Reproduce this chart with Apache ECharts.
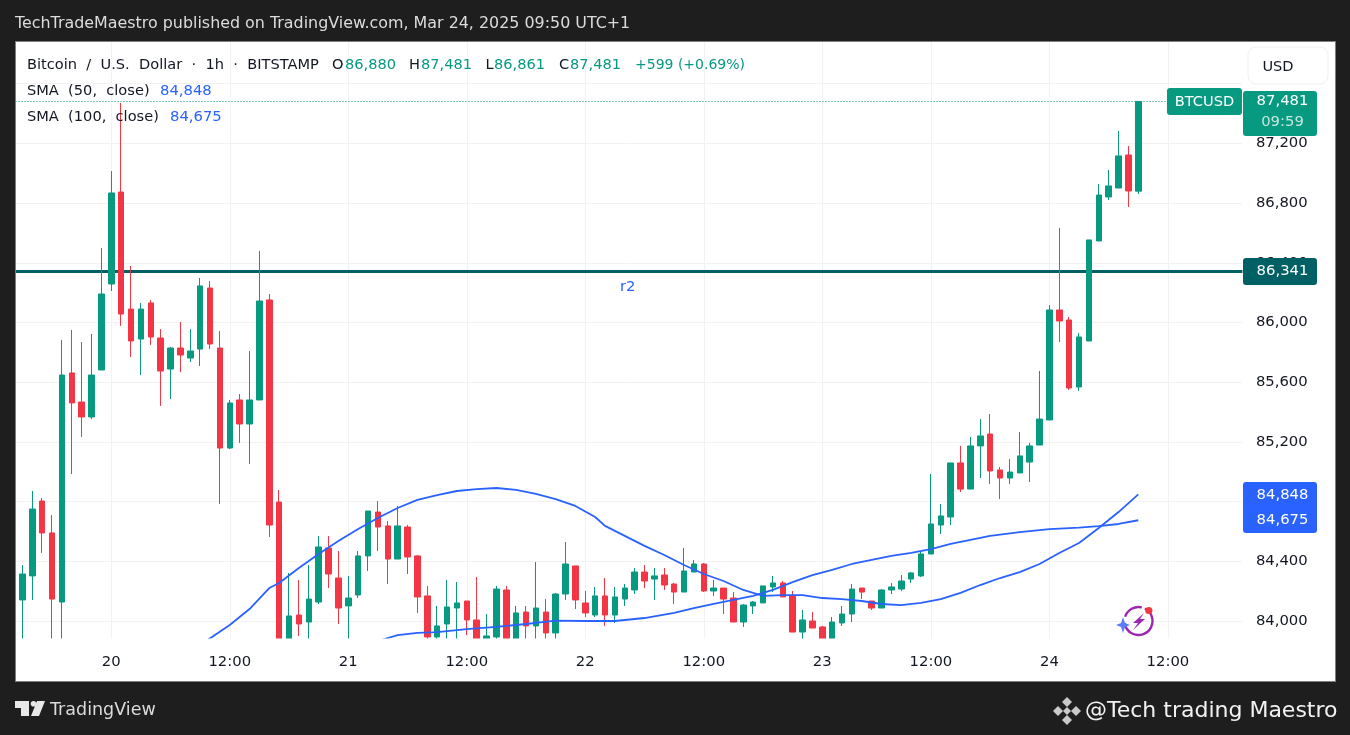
<!DOCTYPE html>
<html><head><meta charset="utf-8">
<style>html,body{margin:0;padding:0;background:#1e1e1e}#c{width:1350px;height:735px}</style>
<script src="https://cdn.jsdelivr.net/npm/echarts@6/dist/echarts.min.js"></script>
</head><body><div id="c"></div>
<script>
const opens=[83873,84141,84302,84804,84590,84127,85662,85467,85367,85682,86258,86874,86090,85889,86131,85896,85688,85829,85762,85822,86231,85829,85159,85481,85320,85481,86151,84797,83839,84040,83993,84127,84489,84288,84101,84174,84436,84730,84637,84415,84630,84436,84168,83893,83980,84087,84134,84007,83839,83893,84208,83839,84060,83967,84060,83920,84181,84369,84121,84040,84168,84040,84147,84208,84328,84281,84308,84248,84194,84328,84382,84201,84221,84154,83993,84101,84121,84228,84255,84168,83926,84000,83960,83866,83987,84047,84221,84134,84087,84208,84214,84281,84302,84449,84643,84697,85059,84884,85173,85253,85012,84958,84992,85065,85179,85347,86084,86017,85568,85876,86546,86841,86901,87122,86880];
const closes=[84121,84315,84750,84590,84147,85648,85461,85367,85648,86191,86868,86057,85876,86090,85903,85675,85829,85782,85809,86245,85856,85159,85461,85320,85481,86144,84643,83839,84034,83980,84147,84496,84315,84087,84154,84436,84737,84630,84415,84637,84429,84161,83893,83967,84094,84121,84007,83839,83900,84214,83839,84054,83967,84087,83920,84181,84382,84141,84054,84168,84040,84161,84221,84328,84268,84302,84241,84194,84335,84382,84201,84221,84147,83993,84107,84127,84235,84255,84161,83926,84007,83953,83866,83993,84047,84214,84194,84087,84208,84228,84268,84322,84449,84650,84704,85059,84884,85173,85240,85005,84958,84998,85106,85173,85353,86084,86010,85561,85903,86553,86854,86915,87116,86881,87481];
const lows=[83873,83879,84141,84456,83873,83873,84985,85233,85353,85682,86211,85977,85769,85648,85849,85441,85487,85668,85735,85709,85822,84784,85152,85193,85052,85481,84563,83806,83806,83900,83879,84114,84221,83980,83879,84154,84335,84469,84248,84415,84315,84054,83873,83873,83873,83879,83906,83806,83806,83866,83806,83806,83873,83873,83873,83873,84141,84080,84027,84027,83967,83987,84101,84181,84221,84141,84208,84114,84194,84328,84194,84168,84047,83993,83960,84047,84121,84194,84161,83926,83873,83953,83866,83839,83967,83993,84147,84074,84087,84181,84201,84255,84295,84449,84583,84643,84864,84884,84958,84918,84817,84918,84992,84931,85179,85347,85869,85548,85541,85876,86546,86821,86901,86774,86861];
const highs=[84121,84375,84871,84824,84710,85883,85950,85869,85923,86499,87015,87471,86379,86131,86151,85956,85836,86003,85956,86298,86278,85943,85481,85521,85809,86479,86191,84878,84322,84275,84375,84570,84570,84469,84302,84469,84737,84804,84670,84771,84643,84442,84235,84101,84275,84261,84134,84295,84047,84235,84235,84101,84101,84395,84147,84188,84529,84369,84201,84228,84288,84228,84248,84355,84375,84355,84355,84255,84489,84409,84389,84275,84221,84194,84114,84134,84235,84302,84268,84201,84074,84060,83967,84027,84101,84248,84221,84134,84214,84255,84308,84328,84469,84985,84784,85059,85173,85233,85353,85387,85032,85085,85266,85193,85675,86117,86633,86037,85930,86553,86928,87022,87283,87183,87481];

const sma50Bars=[19,22,24,26,27,29,31,33,35,37,39,41,43,45,47,49,51,53,55,57,59,60,62,64,66,68,70,72,74,76,78,80,82,84,86,88,90,92,94,96,98,100,102,104,106,108,110,112,114];
const sma50Values=[83839,83973,84080,84221,84255,84355,84449,84536,84616,84690,84757,84811,84844,84871,84884,84891,84878,84851,84817,84771,84697,84637,84570,84503,84442,84375,84315,84268,84208,84168,84174,84174,84154,84147,84134,84114,84107,84121,84147,84188,84241,84288,84328,84382,84456,84523,84623,84730,84848];
const sma100Bars=[37,39,41,43,46,49,52,55,58,61,64,67,69,71,73,75,77,79,81,83,85,87,89,91,93,95,97,99,102,105,108,110,112,114];
const sma100Values=[83866,83906,83920,83926,83946,83960,83980,84003,84000,84000,84020,84054,84087,84114,84141,84168,84208,84261,84308,84342,84382,84409,84436,84456,84482,84516,84543,84570,84596,84616,84626,84636,84650,84675];

const tickBars=[10,22,34,46,58,70,82,93,105,117];
const tickLabels=['20','12:00','21','12:00','22','12:00','23','12:00','24','12:00'];
const yTickValues=[84000,84400,84800,85200,85600,86000,86400,86800,87200];
const barCount=126;

const lastPrice=87481, r2Level=86341;
const FONT='"DejaVu Sans"';
const GREEN='#089981',RED='#F23645',BLUE='#2962FF',TEAL='#006064',INK='#131722',DARK='#1e1e1e';

const categories=Array.from({length:barCount},(_,i)=>{const k=tickBars.indexOf(i);return k<0?'':tickLabels[k];});
const candle=opens.map((o,i)=>[o,closes[i],lows[i],highs[i]]);
function sparse(bars,vals){const a=new Array(barCount).fill(null);bars.forEach((b,i)=>a[b]=vals[i]);return a;}
const fmt=v=>v.toLocaleString('en-US');

function txt(x,y,text,fill,size,align,weight,z){return {type:'text',x,y,z:z||90,silent:true,style:{text,fill,font:(weight||'normal')+' '+(size||14)+'px '+FONT,textAlign:align||'left',textVerticalAlign:'middle'}};}
function rect(x,y,w,h,fill,z,r,stroke){return {type:'rect',z:z,silent:true,shape:{x,y,width:w,height:h,r:r||0},style:{fill,stroke:stroke||null,lineWidth:stroke?1:0}};}
function poly(points,fill,z){return {type:'polygon',z:z||90,silent:true,shape:{points},style:{fill}};}

const chrome=[
 rect(0,0,1350,41,DARK,50), rect(0,682,1350,53,DARK,50), rect(0,0,15,735,DARK,50), rect(1336,0,14,735,DARK,50),
 rect(15,41,1321,1,'#7f7f7f',51), rect(15,681,1321,1,'#7f7f7f',51), rect(15,41,1,641,'#7f7f7f',51), rect(1335,41,1,641,'#7f7f7f',51),
 rect(16,638.5,1319,42.5,'#ffffff',20),
 rect(1242.4,42,5,639,'#ffffff',20),
 txt(15,24,'TechTradeMaestro published on TradingView.com, Mar 24, 2025 09:50 UTC+1','#dcdcdc',15.9),
 txt(27,65,'Bitcoin  /  U.S.  Dollar  ·  1h  ·  BITSTAMP',INK,14.6),
 txt(332,65,'O',INK,14.6), txt(345,65,'86,880',GREEN,14.6),
 txt(409,65,'H',INK,14.6), txt(421,65,'87,481',GREEN,14.6),
 txt(485.5,65,'L',INK,14.6), txt(494,65,'86,861',GREEN,14.6),
 txt(559,65,'C',INK,14.6), txt(570,65,'87,481',GREEN,14.6),
 txt(635,65,'+599 (+0.69%)',GREEN,14),
 txt(27,91,'SMA  (50,  close)',INK,14.6), txt(160,91,'84,848',BLUE,14.8),
 txt(27,117,'SMA  (100,  close)',INK,14.6), txt(170,117,'84,675',BLUE,14.8),
 rect(1248,47,80,37,'#ffffff',80,8,'#f0f0f0'), txt(1278,67,'USD',INK,14.6,'center'),
 rect(1167,88,75,27,GREEN,80,3), txt(1204.5,102.5,'BTCUSD','#ffffff',14.6,'center'),
 rect(1243,91,74,45,GREEN,80,3), txt(1282.5,101,fmt(lastPrice),'#ffffff',14.8,'center'), txt(1282.5,122,'09:59','#c6e6e0',14.8,'center'),
 rect(1243,258,74,27,TEAL,80,3), txt(1282.5,271.5,fmt(r2Level),'#ffffff',14.8,'center'),
 rect(1243,482,74,51,BLUE,80,3), txt(1282.5,495,fmt(sma50Values[sma50Values.length-1]),'#ffffff',14.8,'center'), txt(1282.5,520,fmt(sma100Values[sma100Values.length-1]),'#ffffff',14.8,'center'),
 // TradingView logo
 poly([[15,701],[29,701],[29,716],[21,716],[21,708],[15,708]],'#e8e8e8'),
 poly([[37,701],[45,701],[39,716],[31,716]],'#e8e8e8'),
 {type:'circle',z:90,silent:true,shape:{cx:33.5,cy:703.8,r:2.8},style:{fill:'#e8e8e8'}},
 txt(50,710,'TradingView','#dcdcdc',17.5),
 // Binance mark
 poly([[1067,697],[1072,702],[1067,707],[1062,702]],'#c9c9c9'),
 poly([[1067,715],[1072,720],[1067,725],[1062,720]],'#c9c9c9'),
 poly([[1058,706],[1063,711],[1058,716],[1053,711]],'#c9c9c9'),
 poly([[1076,706],[1081,711],[1076,716],[1071,711]],'#c9c9c9'),
 poly([[1067,707],[1071,711],[1067,715],[1063,711]],'#c9c9c9'),
 txt(1085,711,'@Tech trading Maestro','#f2f2f2',22),
 // badge
 {type:'arc',z:90,silent:true,shape:{cx:1138.5,cy:621,r:14,startAngle:-1.1,endAngle:3.0},style:{fill:null,stroke:'#9C27B0',lineWidth:2.4}},
 {type:'arc',z:90,silent:true,shape:{cx:1138.5,cy:621,r:14,startAngle:3.45,endAngle:4.95},style:{fill:null,stroke:'#9C27B0',lineWidth:2.4}},
 poly([[1144,613],[1133,623],[1138,623],[1133,630],[1145,619],[1140,619]],'#9C27B0'),
 {type:'circle',z:90,silent:true,shape:{cx:1148.8,cy:610.5,r:3.6},style:{fill:RED}},
 poly([[1123,617],[1125,623],[1130,625],[1125,627],[1123,633],[1121,627],[1116,625],[1121,623]],'#5c7cfa',91)
];

const chart=echarts.init(document.getElementById('c'),null,{renderer:'canvas',width:1350,height:735});
chart.setOption({
 animation:false,
 backgroundColor:'#ffffff',
 grid:{left:12.5,width:1234.4,top:24,height:656.7,containLabel:false},
 xAxis:[
  {type:'category',data:categories,position:'bottom',boundaryGap:false,z:0,
   axisLine:{show:false},axisTick:{show:false},axisLabel:{show:false},
   splitLine:{show:true,interval:(i,v)=>v!=='',lineStyle:{color:'#f2f2f2',width:1}}},
  {type:'category',data:categories,position:'bottom',boundaryGap:false,z:60,
   axisLine:{show:false},axisTick:{show:false},splitLine:{show:false},
   axisLabel:{show:true,interval:0,inside:true,margin:11,color:INK,fontFamily:FONT,fontSize:14.8,hideOverlap:false}}
 ],
 yAxis:{type:'value',position:'right',min:83600,max:88000,interval:400,scale:true,
  axisLine:{show:false},axisTick:{show:false},
  splitLine:{show:true,lineStyle:{color:'#f2f2f2',width:1}},
  axisLabel:{margin:9,color:INK,fontFamily:FONT,fontSize:14.8,
   formatter:v=>yTickValues.includes(v)?fmt(v):''}},
 series:[
  {type:'candlestick',name:'BTCUSD',data:candle,xAxisIndex:0,barWidth:6,z:4,
   itemStyle:{color:GREEN,color0:RED,borderColor:GREEN,borderColor0:RED,borderWidth:1},
   markLine:{silent:true,symbol:'none',animation:false,z:3,
    data:[
     {yAxis:r2Level,lineStyle:{color:TEAL,width:3,type:'solid'},label:{show:true,formatter:'r2',position:'insideMiddleBottom',color:BLUE,fontFamily:FONT,fontSize:14.8,distance:[0,-24],offset:[-2,32]}},
     {yAxis:lastPrice,lineStyle:{color:GREEN,width:1,type:[1,2]},label:{show:false}}
    ]}},
  {type:'line',name:'SMA 50',data:sparse(sma50Bars,sma50Values),connectNulls:true,showSymbol:false,symbol:'none',lineStyle:{color:BLUE,width:1.8},z:6},
  {type:'line',name:'SMA 100',data:sparse(sma100Bars,sma100Values),connectNulls:true,showSymbol:false,symbol:'none',lineStyle:{color:BLUE,width:1.8},z:6}
 ],
 graphic:{elements:chrome}
});
</script></body></html>
